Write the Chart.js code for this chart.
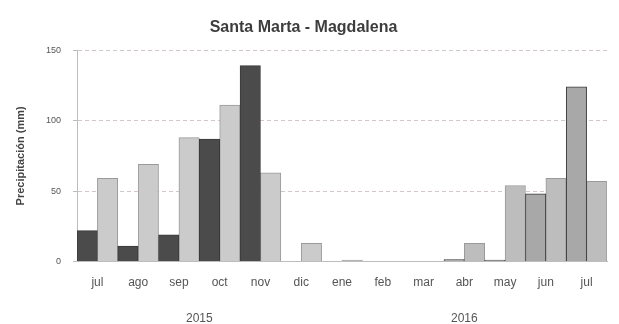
<!DOCTYPE html>
<html>
<head>
<meta charset="utf-8">
<script src="https://cdn.jsdelivr.net/npm/chart.js@4.4.0/dist/chart.umd.min.js"></script>
<style>
  html, body { margin: 0; padding: 0; background: #fff; }
  #wrap { width: 619px; height: 324px; position: relative; }
</style>
</head>
<body>
<div id="wrap"><canvas id="rainChart" width="619" height="324"></canvas></div>
<script>
// monthly rainfall, jul 2015 - jul 2016
const months = ['jul', 'ago', 'sep', 'oct', 'nov', 'dic', 'ene', 'feb', 'mar', 'abr', 'may', 'jun', 'jul'];
const monthYears = [2015, 2015, 2015, 2015, 2015, 2015, 2016, 2016, 2016, 2016, 2016, 2016, 2016];
const observed = [22, 11, 19, 87, 139, 0, 0, 0, 0, 1.5, 1, 48, 124];
const normal = [59, 69, 88, 111, 63, 13, 1, 0, 0, 13, 54, 59, 57];
const yearLabels = ['2015', '2016'];
const yTicks = [0, 50, 100, 150];

const FONT = "'Liberation Sans', Arial, sans-serif";

// year captions centred under the months they cover
const yearAxis = {
    id: 'yearAxis',
    afterDraw(chart) {
        const x = chart.scales.x;
        const half = x.width / months.length / 2;
        const ctx = chart.ctx;
        ctx.save();
        ctx.font = '12px ' + FONT;
        ctx.fillStyle = '#555';
        ctx.textAlign = 'center';
        ctx.textBaseline = 'middle';
        yearLabels.forEach(yr => {
            const idx = monthYears.map((y, i) => y === +yr ? i : -1).filter(i => i >= 0);
            const left = x.getPixelForValue(idx[0]) - half;
            const right = x.getPixelForValue(idx[idx.length - 1]) + half;
            ctx.fillText(yr, (left + right) / 2, chart.chartArea.bottom + 57);
        });
        ctx.restore();
    }
};

const ctx = document.getElementById('rainChart').getContext('2d');
new Chart(ctx, {
    type: 'bar',
    data: {
        labels: months,
        datasets: [{
            label: 'Observado',
            data: observed,
            backgroundColor: monthYears.map(y => y === 2015 ? '#4b4b4b' : '#a8a8a8'),
            borderColor: '#3a3a3a',
            borderWidth: 1,
            categoryPercentage: 1.0,
            barPercentage: 1.0
        }, {
            label: 'Promedio',
            data: normal,
            backgroundColor: monthYears.map(y => y === 2015 ? '#cbcbcb' : '#bdbdbd'),
            borderColor: '#9a9a9a',
            borderWidth: 1,
            categoryPercentage: 1.0,
            barPercentage: 1.0
        }]
    },
    options: {
        responsive: false,
        animation: false,
        layout: { padding: { left: 0, right: 12, top: 0, bottom: 20 } },
        plugins: {
            legend: { display: false },
            tooltip: { enabled: false },
            title: {
                display: true,
                text: 'Santa Marta - Magdalena',
                color: '#3d3d3d',
                font: { family: FONT, size: 16, weight: 'bold' },
                padding: { top: 18, bottom: 13 }
            }
        },
        scales: {
            x: {
                grid: { display: false, drawTicks: false },
                border: { color: '#bdbdbd' },
                ticks: {
                    color: '#555',
                    padding: 14,
                    font: { family: FONT, size: 12 }
                }
            },
            y: {
                min: 0,
                max: 150,
                afterBuildTicks(scale) {
                    scale.ticks = yTicks.map(v => ({ value: v }));
                },
                afterFit(scale) { scale.width = 77; },
                grid: {
                    color: 'rgba(200, 185, 185, 0.8)',
                    tickLength: 4,
                    tickColor: '#bbb'
                },
                border: { color: '#bdbdbd', dash: [4, 3] },
                ticks: {
                    color: '#555',
                    padding: 12,
                    font: { family: FONT, size: 9 }
                },
                title: {
                    display: true,
                    text: 'Precipitación (mm)',
                    color: '#444',
                    font: { family: FONT, size: 11, weight: 'bold' },
                    padding: { top: 14, bottom: 0 }
                }
            }
        }
    },
    plugins: [yearAxis]
});
</script>
</body>
</html>
